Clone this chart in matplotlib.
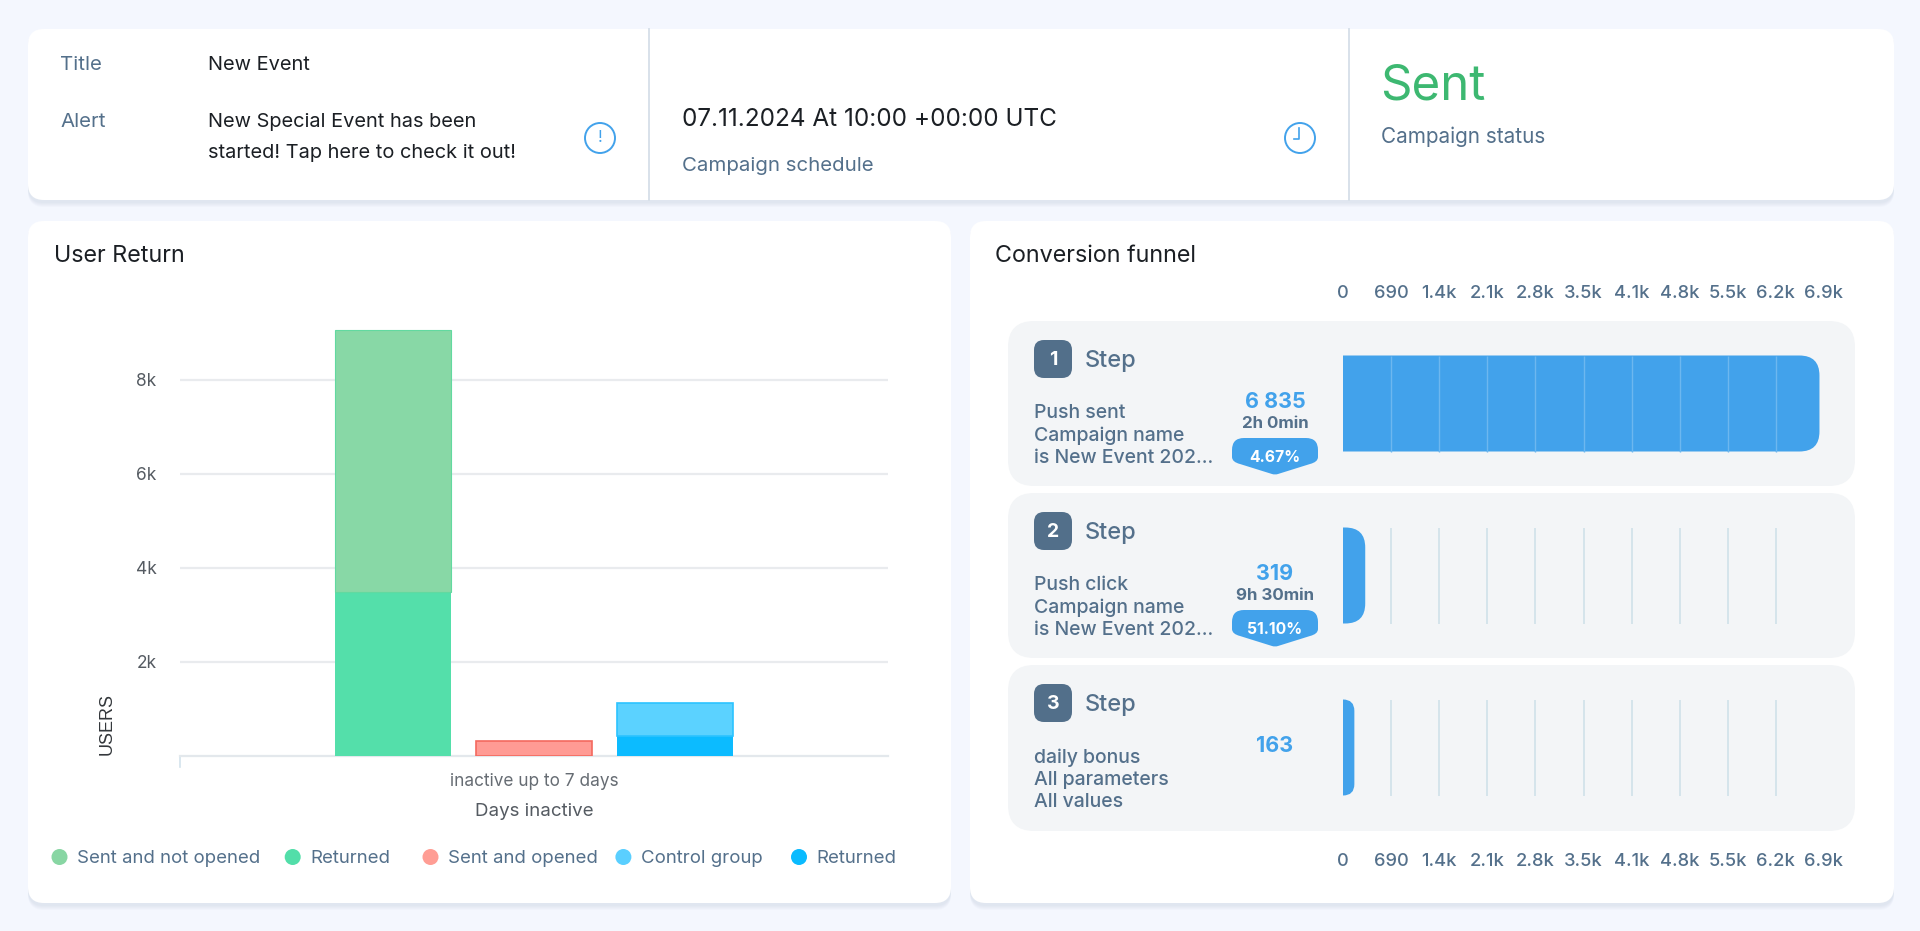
import matplotlib
matplotlib.use('Agg')
import matplotlib.pyplot as plt
from matplotlib.patches import FancyBboxPatch, Circle, PathPatch
from matplotlib.path import Path

plt.rcParams['font.family'] = ['Inter', 'DejaVu Sans']

W, H = 1920, 931

# chart data
categories = ['inactive up to 7 days']
not_opened = 5570
not_opened_returned = 3500
opened = 320
control = 710
control_returned = 420
y_ticks = [2000, 4000, 6000, 8000]
y_labels = ['2k', '4k', '6k', '8k']
legend_labels = ['Sent and not opened', 'Returned', 'Sent and opened', 'Control group', 'Returned']
legend_colors = ['#88D6A3', '#52DEA9', '#FF9D94', '#5ACFFF', '#0ABBFF']

step_names = [['Push sent', 'Campaign name', 'is New Event 202...'],
              ['Push click', 'Campaign name', 'is New Event 202...'],
              ['daily bonus', 'All parameters', 'All values']]
step_values = [6835, 319, 163]
step_value_labels = ['6 835', '319', '163']
step_times = ['2h 0min', '9h 30min', '']
step_rates = ['4.67%', '51.10%', '']
funnel_ticks = [0, 690, 1380, 2070, 2760, 3450, 4140, 4830, 5520, 6210, 6900]
funnel_labels = ['0', '690', '1.4k', '2.1k', '2.8k', '3.5k', '4.1k', '4.8k', '5.5k', '6.2k', '6.9k']

SLATE = '#54708B'
DARK = '#1B1F24'
BLUE = '#42A2EB'


def px_axes(x0, y0, x1, y1, **kw):
    # axes placed with page pixels, y going down
    ax = fig.add_axes([x0 / W, 1 - y1 / H, (x1 - x0) / W, (y1 - y0) / H], **kw)
    return ax


def card(x0, y0, x1, y1, r=16, color='white'):
    page.add_patch(FancyBboxPatch((x0 + r, y0 + r), x1 - x0 - 2 * r, y1 - y0 - 2 * r,
                                  boxstyle='round,pad=%d,rounding_size=%d' % (r, r),
                                  fc=color, ec='none', zorder=2))


def shadow(x0, y0, x1, y1, r=16):
    for i in range(1, 6):
        page.add_patch(FancyBboxPatch((x0 + r, y0 + r + 2), x1 - x0 - 2 * r, y1 - y0 - 2 * r + i,
                                      boxstyle='round,pad=%d,rounding_size=%d' % (r, r),
                                      fc='#8FA3C0', ec='none', alpha=0.04, zorder=1))


def txt(x, y, s, size=14.7, color=DARK, ax=None, **kw):
    (ax or page).text(x, y + 2, s, fontsize=size, color=color, va='center', zorder=5, **kw)


def round_bar(ax, value, y0, y1, scale, r=20):
    # bar with rounded right end, r in pixels
    rpx = min(r, value * scale)
    rx = rpx / scale
    verts = [(0, y0), (value - rx, y0), (value, y0), (value, y0 + rpx), (value, y1 - rpx),
             (value, y1), (value - rx, y1), (0, y1), (0, y0)]
    codes = [Path.MOVETO, Path.LINETO, Path.CURVE3, Path.CURVE3, Path.LINETO,
             Path.CURVE3, Path.CURVE3, Path.LINETO, Path.CLOSEPOLY]
    ax.add_patch(PathPatch(Path(verts, codes), fc=BLUE, ec='none', zorder=3))


def badge(cx, y0, label):
    x0, x1 = cx - 43, cx + 43
    ym, y1 = y0 + 25, y0 + 37
    verts = [(x0 + 12, y0), (x1 - 12, y0), (x1, y0), (x1, y0 + 12), (x1, ym - 6), (x1, ym - 1), (x1 - 8, ym + 1),
             (cx + 3, y1 - 1), (cx, y1), (cx - 3, y1 - 1), (x0 + 8, ym + 1), (x0, ym - 1), (x0, ym - 6),
             (x0, y0 + 12), (x0, y0), (x0 + 12, y0)]
    codes = [Path.MOVETO, Path.LINETO, Path.CURVE3, Path.CURVE3, Path.LINETO, Path.CURVE3, Path.CURVE3,
             Path.LINETO, Path.CURVE3, Path.CURVE3, Path.LINETO, Path.CURVE3, Path.CURVE3,
             Path.LINETO, Path.CURVE3, Path.CURVE3]
    page.add_patch(PathPatch(Path(verts, codes), fc=BLUE, ec='none', zorder=4))
    txt(cx, y0 + 17, label, size=11.3, color='white', ha='center', fontweight='bold')


fig = plt.figure(figsize=(W / 100, H / 100), dpi=100, facecolor='#F4F7FE')
page = fig.add_axes([0, 0, 1, 1], zorder=0)
page.set_xlim(0, W)
page.set_ylim(H, 0)
page.axis('off')

for box in [(28, 29, 1894, 200), (28, 221, 951, 903), (970, 221, 1894, 903)]:
    shadow(*box)
    card(*box)
page.plot([649, 649], [29, 200], color='#D8E1EA', lw=1.4, zorder=3)
page.plot([1349, 1349], [29, 200], color='#D8E1EA', lw=1.4, zorder=3)

# top strip
txt(60, 63, 'Title', color=SLATE)
txt(208, 63, 'New Event', size=14.4)
txt(60, 120, 'Alert', color=SLATE)
txt(208, 120, 'New Special Event has been', size=14.4)
txt(208, 151, 'started! Tap here to check it out!', size=14.4)
page.add_patch(Circle((600, 138), 15, fc='none', ec=BLUE, lw=1.4, zorder=4))
txt(600, 136, '!', size=12, color=BLUE, ha='center')
txt(682, 117, '07.11.2024 At 10:00 +00:00 UTC', size=17.5)
txt(682, 164, 'Campaign schedule', color=SLATE)
page.add_patch(Circle((1300, 138), 15, fc='none', ec=BLUE, lw=1.4, zorder=4))
page.plot([1299, 1299, 1294], [128, 139, 139], color=BLUE, lw=1.2, zorder=4)
txt(1380, 85, 'Sent', size=35.5, color='#3DB871')
txt(1381, 134.5, 'Campaign status', color=SLATE, size=14.9)

# user return chart
txt(54, 254, 'User Return', size=16.8)
txt(995, 254, 'Conversion funnel', size=16.8)

PX_PER_K = 47.0
UNIT = 141.0
ax = px_axes(180, 300, 888, 756, zorder=2)
ax.patch.set_alpha(0)
ax.set_xlim(-354 / UNIT, 354 / UNIT)
ax.set_ylim(0, 456 / PX_PER_K * 1000)
bw = 116 / UNIT
ax.bar(-1, not_opened_returned, bw, color='#54DFAA', zorder=3)
ax.bar(-1, not_opened, bw, bottom=not_opened_returned, color='#88D8A6', edgecolor='#62D9A0', linewidth=0.8, zorder=3)
ax.bar(0, opened, bw, color='#FF9B94', edgecolor='#F4695F', linewidth=1.2, zorder=3)
ax.bar(1, control_returned, bw, color='#0CBBFF', zorder=3)
ax.bar(1, control, bw, bottom=control_returned, color='#5BD2FF', edgecolor='#2CC3FF', linewidth=1.2, zorder=3)
ax.set_yticks(y_ticks, y_labels, fontsize=12.5, color='#555B62')
ax.set_xticks([])
ax.tick_params(axis='y', length=0, pad=17)
ax.grid(axis='y', color='#E9EBEE', lw=1.6, zorder=0)
for s in ['top', 'right', 'left']:
    ax.spines[s].set_visible(False)
ax.spines['bottom'].set_color('#E3E8EC')
ax.spines['bottom'].set_linewidth(1.6)
page.plot([180, 180], [756, 767], color='#D3E3EC', lw=1.2, zorder=3)

txt(534, 779, categories[0], size=12.4, color='#666C73', ha='center')
txt(534, 809, 'Days inactive', size=13.5, color='#555B62', ha='center')
page.text(107, 724, 'USERS', fontsize=13, color='#33373B', rotation=90, ha='center', va='center',
          family='Liberation Sans', zorder=5)

leg_dot = [59.5, 292.7, 430.5, 623.4, 799]
for x, lab, col in zip(leg_dot, legend_labels, legend_colors):
    page.add_patch(Circle((x, 857), 8, fc=col, ec='none', zorder=4))
    txt(x + 17.5, 856.5, lab, size=13.4, color=SLATE)

# funnel rows
rows = [(321, 486), (493, 658), (665, 831)]
for i, (y0, y1) in enumerate(rows):
    card(1008, y0, 1855, y1, r=26, color='#F3F5F7')
    page.add_patch(FancyBboxPatch((1041, y0 + 26), 24, 24, boxstyle='round,pad=7,rounding_size=10',
                                  fc='#526F8A', ec='none', zorder=4))
    txt(1053, y0 + 37, str(i + 1), size=14, color='white', ha='center', fontweight='bold')
    txt(1085, y0 + 38, 'Step', size=17, color=SLATE, fontweight='medium')
    for j, line in enumerate(step_names[i]):
        txt(1034, y0 + 90.5 + j * 22.4, line, size=14, color=SLATE, fontweight='medium')
    txt(1275, y0 + 79, step_value_labels[i], size=15.5, color=BLUE, ha='center', fontweight='bold')
    if i < 2:
        txt(1275, y0 + 100.5, step_times[i], size=12.2, color=SLATE, ha='center', fontweight='bold')
        badge(1275, y0 + 117, step_rates[i])

scale = 48.1 / 690
fx = px_axes(1343, 270, 1855, 880, zorder=3)
fx.patch.set_alpha(0)
fx.set_xlim(0, 512 / scale)
fx.set_ylim(880, 270)
fx.axis('off')
for (y0, y1), v in zip(rows, step_values):
    bar_top, bar_bot = y0 + 34.5, y0 + 130.5
    fx.vlines(funnel_ticks[1:-1], bar_top, bar_bot, color='#CFE1E9', lw=1.2, zorder=1)
    round_bar(fx, v, bar_top, bar_bot, scale)
    inside = [t for t in funnel_ticks[1:-1] if t < v]
    fx.vlines(inside, bar_top, bar_bot, color='#6DB7EF', lw=1, zorder=4)
for t, lab in zip(funnel_ticks, funnel_labels):
    fx.text(t, 293, lab, fontsize=13.2, color=SLATE, ha='center', va='center', fontweight='medium')
    fx.text(t, 861, lab, fontsize=13.2, color=SLATE, ha='center', va='center', fontweight='medium')

fig.savefig('out.png', dpi=100, facecolor=fig.get_facecolor())
